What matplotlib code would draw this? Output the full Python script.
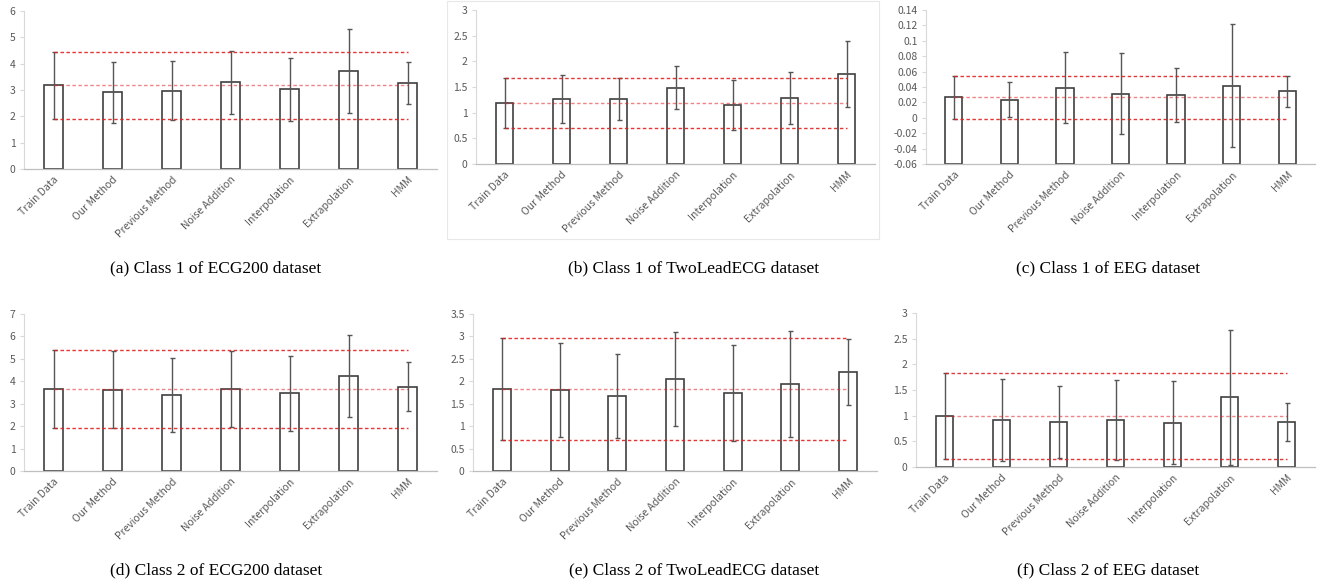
import matplotlib
matplotlib.use("Agg")
import matplotlib.pyplot as plt
from matplotlib.patches import Rectangle
from matplotlib.ticker import FuncFormatter
import numpy as np

methods = ["Train Data", "Our Method", "Previous Method", "Noise Addition",
           "Interpolation", "Extrapolation", "HMM"]

# class 1
ecg200_c1_mean = [3.18, 2.91, 2.98, 3.29, 3.02, 3.72, 3.27]
ecg200_c1_std = [1.27, 1.16, 1.11, 1.21, 1.21, 1.58, 0.80]
twolead_c1_mean = [1.19, 1.26, 1.26, 1.49, 1.15, 1.28, 1.76]
twolead_c1_std = [0.48, 0.47, 0.41, 0.415, 0.48, 0.51, 0.64]
eeg_c1_mean = [0.0264, 0.0233, 0.0393, 0.0315, 0.0298, 0.0419, 0.0346]
eeg_c1_std = [0.0285, 0.0229, 0.0458, 0.0523, 0.0354, 0.0795, 0.0203]

# class 2
ecg200_c2_mean = [3.67, 3.63, 3.39, 3.66, 3.46, 4.23, 3.76]
ecg200_c2_std = [1.74, 1.73, 1.65, 1.70, 1.67, 1.83, 1.08]
twolead_c2_mean = [1.82, 1.80, 1.67, 2.05, 1.74, 1.94, 2.21]
twolead_c2_std = [1.14, 1.05, 0.94, 1.05, 1.08, 1.19, 0.73]
eeg_c2_mean = [0.995, 0.91, 0.873, 0.91, 0.866, 1.357, 0.873]
eeg_c2_std = [0.845, 0.80, 0.70, 0.78, 0.81, 1.32, 0.37]

captions = ["(a) Class 1 of ECG200 dataset", "(b) Class 1 of TwoLeadECG dataset",
            "(c) Class 1 of EEG dataset", "(d) Class 2 of ECG200 dataset",
            "(e) Class 2 of TwoLeadECG dataset", "(f) Class 2 of EEG dataset"]

W, H = 1327, 583
fig = plt.figure(figsize=(W / 100, H / 100), dpi=100)

# pixel boxes: left, right, top, bottom
boxes = [(24, 437, 11, 169), (476, 875, 10, 164), (926, 1315, 10, 164),
         (24, 437, 314, 471), (473, 877, 314, 471), (916, 1315, 313, 467)]
ylims = [(0, 6, 1), (0, 3, 0.5), (-0.06, 0.14, 0.02),
         (0, 7, 1), (0, 3.5, 0.5), (0, 3, 0.5)]
data = [(ecg200_c1_mean, ecg200_c1_std), (twolead_c1_mean, twolead_c1_std),
        (eeg_c1_mean, eeg_c1_std), (ecg200_c2_mean, ecg200_c2_std),
        (twolead_c2_mean, twolead_c2_std), (eeg_c2_mean, eeg_c2_std)]
cap_x = [216, 694, 1108, 216, 694, 1108]
cap_y = [268, 268, 268, 570, 570, 570]

tick_font = ["Noto Sans CJK JP", "DejaVu Sans"]
x = np.arange(len(methods))

# faint chart-area border in panel (b)
fig.patches.append(Rectangle((447 / W, 1 - 239 / H), (879 - 447) / W, 238 / H,
                             transform=fig.transFigure, fill=False,
                             edgecolor="#e8e8e8", lw=0.8))

for k in range(6):
    l, r, t, b = boxes[k]
    ax = fig.add_axes([l / W, 1 - b / H, (r - l) / W, (b - t) / H])
    mean, std = data[k]
    lo, hi, step = ylims[k]
    base = lo if lo < 0 else 0
    ax.bar(x, np.array(mean) - base, bottom=base, width=0.31, color="white",
           edgecolor="#404040", linewidth=1.2, zorder=2)
    ax.errorbar(x, mean, yerr=std, fmt="none", ecolor="#555555",
                elinewidth=1.0, capsize=1.8, capthick=1.0, zorder=3)
    # train data mean +- std reference lines
    tm, ts = mean[0], std[0]
    for yy, a in [(tm + ts, 0.9), (tm, 0.55), (tm - ts, 0.9)]:
        ax.plot([0, 6], [yy, yy], color="#e02020", lw=1.0, alpha=a,
                dashes=(2.5, 1.8), zorder=4)
    ax.set_xlim(-0.5, 6.5)
    ax.set_ylim(lo, hi)
    ax.set_yticks(np.round(np.arange(lo, hi + step / 2, step), 4))
    ax.yaxis.set_major_formatter(FuncFormatter(lambda v, p: "{:g}".format(round(v, 4)) if abs(v) > 1e-9 else "0"))
    ax.set_xticks(x)
    ax.set_xticklabels(methods, rotation=45, ha="right", rotation_mode="anchor",
                       fontsize=7.5, color="#595959", family=tick_font)
    for lab in ax.get_yticklabels():
        lab.set_fontsize(7.5)
        lab.set_color("#595959")
        lab.set_family(tick_font)
    ax.tick_params(axis="x", length=0, pad=4)
    ax.tick_params(axis="y", length=3, width=0.8, color="#d9d9d9", pad=3)
    for s in ["top", "right"]:
        ax.spines[s].set_visible(False)
    ax.spines["left"].set_color("#d9d9d9")
    ax.spines["bottom"].set_color("#bfbfbf")
    ax.spines["left"].set_linewidth(0.8)
    ax.spines["bottom"].set_linewidth(0.9)
    ax.set_facecolor("none")

    fig.text(cap_x[k] / W, 1 - cap_y[k] / H, captions[k], ha="center", va="center",
             fontsize=12.5, family="Liberation Serif", color="black")

fig.savefig("out.png", dpi=100)
